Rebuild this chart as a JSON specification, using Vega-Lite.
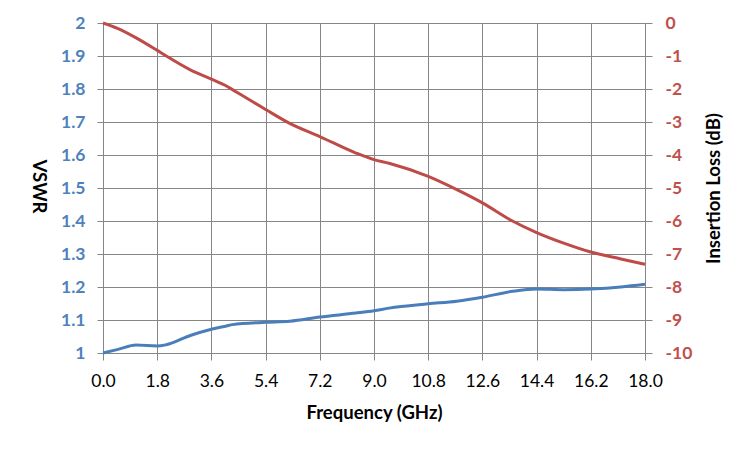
{
  "$schema": "https://vega.github.io/schema/vega-lite/v6.json",
  "width": 542,
  "height": 330,
  "autosize": {"type": "none"},
  "padding": {"left": 103, "top": 23, "right": 105, "bottom": 97},
  "background": "white",
  "config": {
    "view": {"stroke": null},
    "font": "Lato",
    "axis": {
      "domainColor": "#868686",
      "tickColor": "#868686",
      "gridColor": "#868686",
      "gridOpacity": 1,
      "gridWidth": 1,
      "domainWidth": 1,
      "tickWidth": 1,
      "labelFontSize": 17.5,
      "titleFontSize": 18.5,
      "titleFontWeight": "bold",
      "titleColor": "black",
      "labelFont": "Lato",
      "titleFont": "Lato"
    }
  },
  "data": {
    "values": [
      {"freq": 0.0, "vswr": 1.0, "loss": 0.0},
      {"freq": 0.5, "vswr": 1.011, "loss": -0.17},
      {"freq": 1.1, "vswr": 1.024, "loss": -0.45},
      {"freq": 1.8, "vswr": 1.021, "loss": -0.83},
      {"freq": 2.1, "vswr": 1.025, "loss": -1.0},
      {"freq": 2.9, "vswr": 1.053, "loss": -1.42},
      {"freq": 3.6, "vswr": 1.072, "loss": -1.7},
      {"freq": 4.1, "vswr": 1.082, "loss": -1.91},
      {"freq": 4.3, "vswr": 1.086, "loss": -2.02},
      {"freq": 5.4, "vswr": 1.093, "loss": -2.62},
      {"freq": 6.2, "vswr": 1.096, "loss": -3.04},
      {"freq": 7.2, "vswr": 1.109, "loss": -3.44},
      {"freq": 8.4, "vswr": 1.121, "loss": -3.94},
      {"freq": 9.0, "vswr": 1.128, "loss": -4.14},
      {"freq": 9.5, "vswr": 1.136, "loss": -4.25},
      {"freq": 10.8, "vswr": 1.149, "loss": -4.65},
      {"freq": 11.75, "vswr": 1.157, "loss": -5.05},
      {"freq": 12.6, "vswr": 1.169, "loss": -5.45},
      {"freq": 13.6, "vswr": 1.187, "loss": -6.0},
      {"freq": 14.4, "vswr": 1.194, "loss": -6.35},
      {"freq": 15.3, "vswr": 1.192, "loss": -6.67},
      {"freq": 16.2, "vswr": 1.194, "loss": -6.94},
      {"freq": 17.2, "vswr": 1.2, "loss": -7.15},
      {"freq": 18.0, "vswr": 1.208, "loss": -7.31}
    ]
  },
  "encoding": {
    "x": {
      "field": "freq",
      "type": "quantitative",
      "scale": {"domain": [0, 18], "nice": false, "zero": false},
      "axis": {
        "title": "Frequency (GHz)",
        "values": [0, 1.8, 3.6, 5.4, 7.2, 9, 10.8, 12.6, 14.4, 16.2, 18],
        "format": ".1f",
        "labelColor": "black",
        "tickSize": 7,
        "labelPadding": 12,
        "labelFlush": false,
        "titleX": 271,
        "titleY": 65,
        "titleAlign": "center",
        "titleBaseline": "alphabetic"
      }
    }
  },
  "layer": [
    {
      "mark": {"type": "line", "interpolate": "monotone", "color": "#4A7EBB", "strokeWidth": 3},
      "encoding": {
        "y": {
          "field": "vswr",
          "type": "quantitative",
          "scale": {"domain": [1, 2], "nice": false, "zero": false},
          "axis": {
            "orient": "left",
            "title": "VSWR",
            "values": [1, 1.1, 1.2, 1.3, 1.4, 1.5, 1.6, 1.7, 1.8, 1.9, 2],
            "format": ".1~f",
            "labelColor": "#4F81BD",
            "labelFontWeight": "bold",
            "tickSize": 6,
            "labelPadding": 12,
            "labelFlush": false,
            "titleAngle": 90,
            "titleX": -65,
            "titleY": 163,
            "titleAlign": "center",
            "titleBaseline": "middle"
          }
        }
      }
    },
    {
      "mark": {"type": "line", "interpolate": "monotone", "color": "#BE4B48", "strokeWidth": 3},
      "encoding": {
        "y": {
          "field": "loss",
          "type": "quantitative",
          "scale": {"domain": [-10, 0], "nice": false, "zero": false},
          "axis": {
            "orient": "right",
            "title": "Insertion Loss (dB)",
            "values": [-10, -9, -8, -7, -6, -5, -4, -3, -2, -1, 0],
            "labelExpr": "'' + datum.value",
            "grid": false,
            "labelColor": "#C0504D",
            "labelFontWeight": "bold",
            "tickSize": 7,
            "labelPadding": 13,
            "labelFlush": false,
            "titleAngle": -90,
            "titleX": 68,
            "titleY": 165,
            "titleAlign": "center",
            "titleBaseline": "middle"
          }
        }
      }
    }
  ],
  "resolve": {"scale": {"y": "independent"}}
}
